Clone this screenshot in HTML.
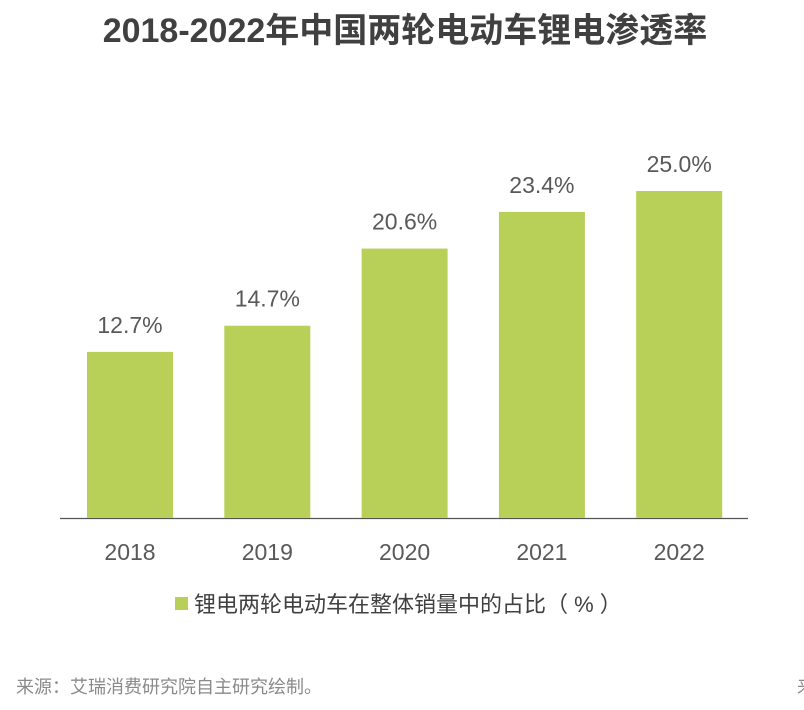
<!DOCTYPE html>
<html><head><meta charset="utf-8">
<style>
body{margin:0;width:804px;height:710px;background:#fff;overflow:hidden;font-family:"Liberation Sans","Noto Sans CJK SC",sans-serif;}
svg{display:block}
</style></head>
<body>
<svg id="chart" width="804" height="710">
<text x="405" y="42" text-anchor="middle" font-size="34" font-weight="bold" fill="#404040">2018-2022年中国两轮电动车锂电渗透率</text>
<line x1="60" y1="518.5" x2="748" y2="518.5" stroke="#555" stroke-width="1.2"/>
<g id="bars"></g>
<rect x="175" y="597" width="13" height="13" fill="#b8d057"/>
<text x="194" y="612" font-size="22" fill="#404040">锂电两轮电动车在整体销量中的占比（ % ）</text>
<text x="16" y="693" font-size="18" fill="#8a8a8a">来源：艾瑞消费研究院自主研究绘制。</text>
<text x="797" y="693" font-size="18" fill="#8a8a8a">来</text>
</svg>
<script>
const categories=["2018","2019","2020","2021","2022"];
const values=[12.7,14.7,20.6,23.4,25.0];
const labels=["12.7%","14.7%","20.6%","23.4%","25.0%"];
const ns="http://www.w3.org/2000/svg";
const g=document.getElementById("bars");
const base=518, scale=13.08, x0=87, step=137.3, bw=86;
function y(v){return base-v*scale;}
function x(i){return x0+i*step;}
categories.forEach((c,i)=>{
  const r=document.createElementNS(ns,"rect");
  r.setAttribute("x",x(i));r.setAttribute("y",y(values[i]));
  r.setAttribute("width",bw);r.setAttribute("height",base-y(values[i]));
  r.setAttribute("fill","#b8d057");
  
  
  g.appendChild(r);
  const t=document.createElementNS(ns,"text");
  t.setAttribute("x",x(i)+bw/2);t.setAttribute("y",y(values[i])-19);
  t.setAttribute("text-anchor","middle");t.setAttribute("font-size","23");t.setAttribute("fill","#595959");
  t.textContent=labels[i];
  
  
  g.appendChild(t);
  const l=document.createElementNS(ns,"text");
  l.setAttribute("x",x(i)+bw/2);l.setAttribute("y",560);
  l.setAttribute("text-anchor","middle");l.setAttribute("font-size","23");l.setAttribute("fill","#595959");
  l.textContent=c;
  
  
  g.appendChild(l);
});
</script>
</body></html>
